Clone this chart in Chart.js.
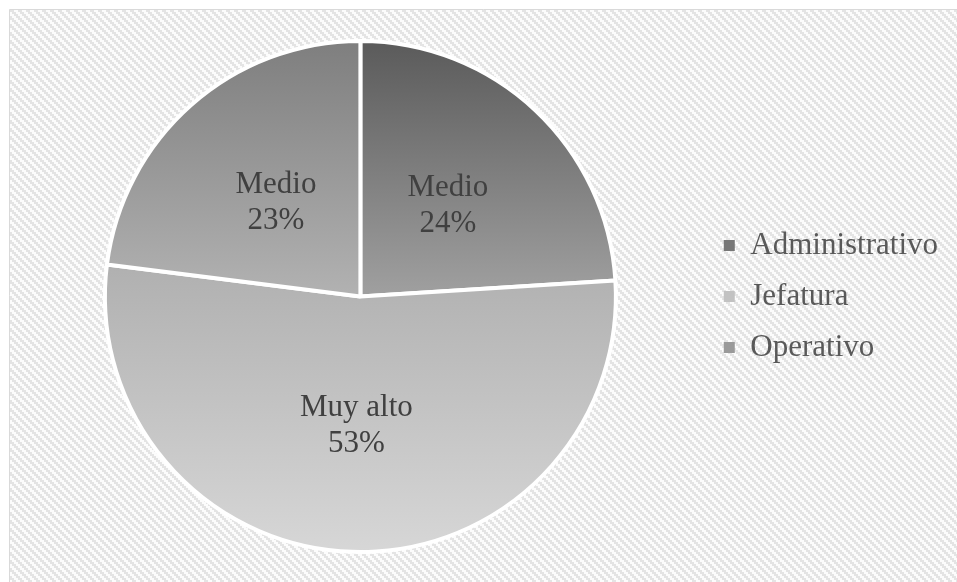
<!DOCTYPE html>
<html>
<head>
<meta charset="utf-8">
<script src="https://cdn.jsdelivr.net/npm/chart.js@4.4.0/dist/chart.umd.min.js"></script>
<style>
  html, body { margin: 0; padding: 0; background: #ffffff; }
  #chart { display: block; }
</style>
</head>
<body>
<canvas id="chart" width="957" height="582"></canvas>
<script>
// datos del gráfico
const categories = ["Administrativo", "Jefatura", "Operativo"];
const levels = ["Medio", "Muy alto", "Medio"];
const percents = [24, 53, 23];

// colores (arriba / abajo de cada sector)
const topColors = ["#5a5a5a", "#b0b0b0", "#7e7e7e"];
const bottomColors = ["#a0a0a0", "#d7d7d7", "#b2b2b2"];
const legendColors = ["#777777", "#c2c2c2", "#9a9a9a"];

const FONT = "'Liberation Serif', 'Times New Roman', serif";

// rango vertical (en fracciones del radio) de cada sector, incluido el centro
function sectorRange(index) {
  const total = percents.reduce((a, b) => a + b, 0);
  let start = 0;
  for (let i = 0; i < index; i++) start += percents[i] / total;
  const end = start + percents[index] / total;
  let minY = 0, maxY = 0;
  for (let k = 0; k <= 100; k++) {
    const a = (start + (end - start) * k / 100) * Math.PI * 2;
    const y = -Math.cos(a);
    minY = Math.min(minY, y);
    maxY = Math.max(maxY, y);
  }
  return [minY, maxY];
}

function sliceGradient(context) {
  const chart = context.chart;
  const area = chart.chartArea;
  if (!area) return topColors[context.dataIndex];
  const cy = (area.top + area.bottom) / 2;
  const r = Math.min(area.right - area.left, area.bottom - area.top) / 2;
  const range = sectorRange(context.dataIndex);
  const g = chart.ctx.createLinearGradient(0, cy + range[0] * r, 0, cy + range[1] * r);
  g.addColorStop(0, topColors[context.dataIndex]);
  g.addColorStop(1, bottomColors[context.dataIndex]);
  return g;
}

// fondo con trama diagonal
function makePattern(ctx) {
  const tile = document.createElement("canvas");
  tile.width = 8;
  tile.height = 8;
  const t = tile.getContext("2d");
  t.fillStyle = "#fcfcfc";
  t.fillRect(0, 0, 8, 8);
  t.fillStyle = "#e4e4e4";
  for (let y = 0; y < 8; y++) {
    for (let x = 0; x < 8; x++) {
      const d = ((Math.floor(x / 2) - Math.floor(y / 2)) % 4 + 4) % 4;
      if (d < 2) t.fillRect(x, y, 1, 1);
    }
  }
  return ctx.createPattern(tile, "repeat");
}

const backgroundPlugin = {
  id: "fondo",
  beforeDraw(chart) {
    const ctx = chart.ctx;
    ctx.save();
    ctx.fillStyle = "#ffffff";
    ctx.fillRect(0, 0, chart.width, chart.height);
    ctx.fillStyle = makePattern(ctx);
    ctx.fillRect(10, 10, chart.width - 10, chart.height - 10);
    ctx.strokeStyle = "#d9d9d9";
    ctx.lineWidth = 1;
    ctx.beginPath();
    ctx.moveTo(9.5, chart.height);
    ctx.lineTo(9.5, 9.5);
    ctx.lineTo(chart.width, 9.5);
    ctx.stroke();
    ctx.restore();
  }
};

// etiquetas dentro de los sectores
const labelPlugin = {
  id: "etiquetas",
  afterDatasetsDraw(chart) {
    const ctx = chart.ctx;
    const meta = chart.getDatasetMeta(0);
    ctx.save();
    ctx.font = "31px " + FONT;
    ctx.fillStyle = "#404040";
    ctx.textAlign = "center";
    ctx.textBaseline = "middle";
    meta.data.forEach(function (arc, i) {
      const pos = arc.tooltipPosition();
      ctx.fillText(levels[i], pos.x, pos.y - 16);
      ctx.fillText(percents[i] + "%", pos.x, pos.y + 20);
    });
    ctx.restore();
  }
};

new Chart(document.getElementById("chart"), {
  type: "pie",
  data: {
    labels: categories,
    datasets: [{
      data: percents,
      backgroundColor: sliceGradient,
      borderColor: "#ffffff",
      borderWidth: 4
    }]
  },
  options: {
    responsive: false,
    animation: false,
    layout: {
      padding: { left: 17, right: 9, top: 39, bottom: 28 }
    },
    plugins: {
      tooltip: { enabled: false },
      legend: {
        position: "right",
        align: "center",
        labels: {
          boxWidth: 11,
          boxHeight: 11,
          padding: 20,
          color: "#595959",
          font: { family: FONT, size: 31 },
          generateLabels: function (chart) {
            return categories.map(function (name, i) {
              return {
                text: name,
                fillStyle: legendColors[i],
                strokeStyle: legendColors[i],
                lineWidth: 0,
                fontColor: "#595959",
                index: i,
                hidden: false
              };
            });
          }
        }
      }
    }
  },
  plugins: [backgroundPlugin, labelPlugin]
});
</script>
</body>
</html>
